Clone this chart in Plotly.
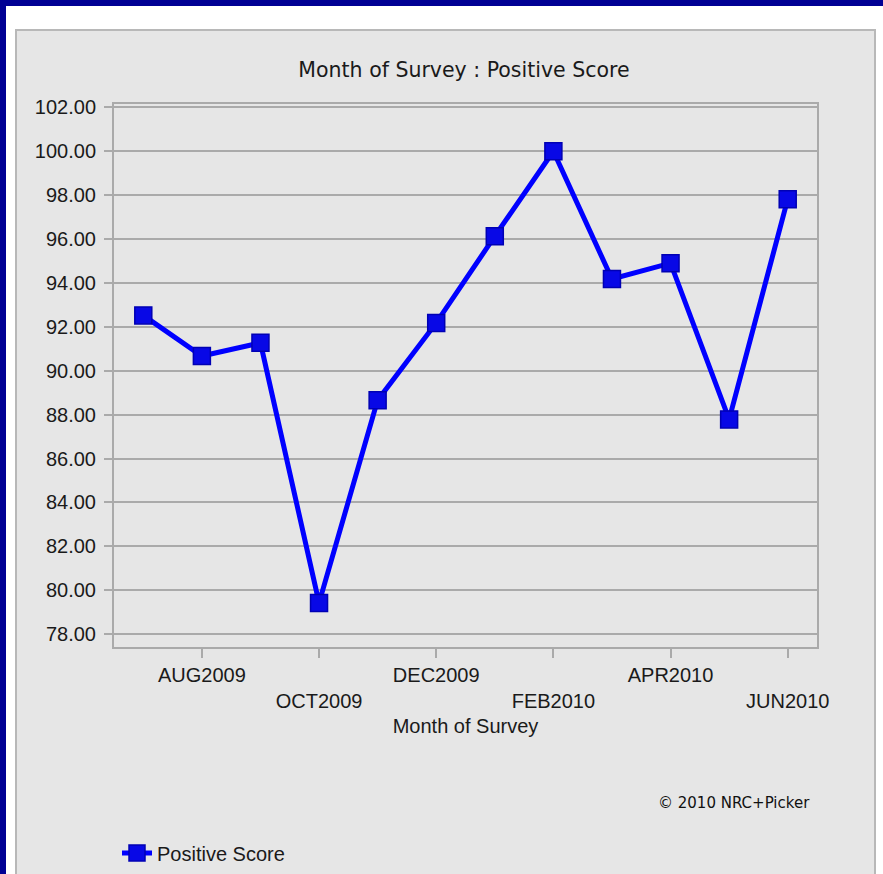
import plotly.graph_objects as go

months = ["JUL2009", "AUG2009", "SEP2009", "OCT2009", "NOV2009", "DEC2009",
          "JAN2010", "FEB2010", "MAR2010", "APR2010", "MAY2010", "JUN2010"]
positive_score = [92.52, 90.67, 91.27, 79.42, 88.66, 92.18,
                  96.13, 100.00, 94.18, 94.90, 87.78, 97.82]
y_ticks = [78, 80, 82, 84, 86, 88, 90, 92, 94, 96, 98, 100, 102]
y_tick_text = ["%.2f" % v for v in y_ticks]
# labelled months (every other), staggered on two rows
x_tick_idx = [1, 3, 5, 7, 9, 11]
x_tick_text = [months[i] if k % 2 == 0 else "<br>" + months[i]
               for k, i in enumerate(x_tick_idx)]

W, H = 883, 874
L, R, T, B = 114, 817, 104, 647  # plot area in pixels


def px(x):
    return (x - L) / (R - L)


def py(y):
    return (B - y) / (B - T)


fig = go.Figure()
fig.add_trace(go.Scatter(
    x=list(range(len(months))), y=positive_score, mode="lines+markers",
    name="Positive Score",
    line=dict(color="#0000ff", width=5),
    marker=dict(symbol="square", size=17, color="#0808e6",
                line=dict(color="#0000b4", width=1.5)),
))

shapes = [
    # navy frame (top and left)
    dict(type="rect", xref="paper", yref="paper", x0=px(0), x1=px(W), y0=py(0), y1=py(6),
         fillcolor="#000094", line=dict(width=0), layer="below"),
    dict(type="rect", xref="paper", yref="paper", x0=px(0), x1=px(6), y0=py(0), y1=py(H + 10),
         fillcolor="#000094", line=dict(width=0), layer="below"),
    # grey chart panel
    dict(type="rect", xref="paper", yref="paper", x0=px(16), x1=px(875), y0=py(30), y1=py(H + 10),
         fillcolor="#e6e6e6", line=dict(color="#b8b8b8", width=2), layer="below"),
]

fig.update_layout(
    width=W, height=H,
    margin=dict(l=L, r=W - R, t=T, b=H - B, pad=0, autoexpand=False),
    paper_bgcolor="#ffffff",
    plot_bgcolor="#e0e0e0",
    shapes=shapes,
    showlegend=True,
    legend=dict(x=117 / W, y=1 - 853 / H, xref="container", yref="container",
                xanchor="left", yanchor="middle",
                orientation="h", bgcolor="rgba(0,0,0,0)", itemwidth=30,
                font=dict(family="Liberation Sans, Arial", size=20, color="#1a1a1a")),
    title=dict(text="Month of Survey : Positive Score", x=464 / W, xanchor="center",
               xref="container", y=1 - 70 / H, yanchor="middle", yref="container",
               font=dict(family="DejaVu Sans", size=20.5, color="#1a1a1a")),
    annotations=[
        dict(text="© 2010 NRC+Picker", xref="paper", yref="paper",
             x=px(734), y=py(803), xanchor="center", yanchor="middle", showarrow=False,
             font=dict(family="DejaVu Sans", size=15, color="#111111")),
    ],
)

fig.update_xaxes(
    range=[-0.5, len(months) - 0.5],
    tickmode="array", tickvals=x_tick_idx, ticktext=x_tick_text,
    ticks="outside", ticklen=9, tickcolor="#aaaaaa", tickwidth=1.5,
    showgrid=False, zeroline=False, automargin=False,
    showline=True, linecolor="#aaaaaa", linewidth=2, mirror=True,
    tickfont=dict(family="Liberation Sans, Arial", size=20, color="#1a1a1a"),
    title=dict(text="Month of Survey", standoff=8,
               font=dict(family="Liberation Sans, Arial", size=20, color="#1a1a1a")),
)
fig.update_yaxes(
    range=[77.41, 102.155],
    tickmode="array", tickvals=y_ticks, ticktext=y_tick_text,
    ticks="outside", ticklen=8, tickcolor="#aaaaaa", tickwidth=1.5,
    ticklabelstandoff=4, automargin=False,
    showgrid=True, gridcolor="#aaaaaa", gridwidth=1.5, zeroline=False,
    showline=True, linecolor="#aaaaaa", linewidth=2, mirror=True,
    tickfont=dict(family="Liberation Sans, Arial", size=20, color="#1a1a1a"),
)

fig.write_html("out.html")
